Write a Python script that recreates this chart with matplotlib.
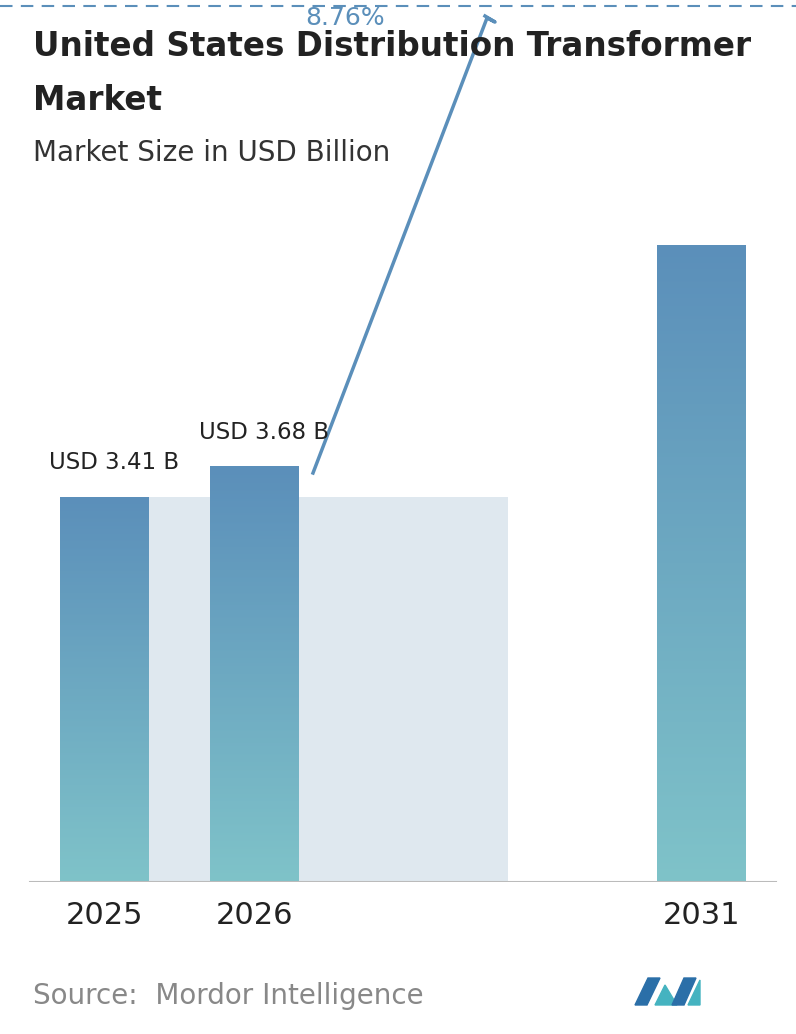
import matplotlib
matplotlib.use("Agg")
import matplotlib.pyplot as plt
import numpy as np
from matplotlib.patches import Rectangle, Polygon
from matplotlib.colors import LinearSegmentedColormap

years = ["2025", "2026", "2031"]
values = [3.41, 3.68, 5.64]
labels = ["USD 3.41 B", "USD 3.68 B", None]
cagr = "8.76%"

W, H = 796, 1034
fig = plt.figure(figsize=(W/100, H/100), dpi=100)
ov = fig.add_axes([0, 0, 1, 1])
ov.set_xlim(0, W); ov.set_ylim(H, 0); ov.axis("off")

base = 882
ppu = 113.0
ax = fig.add_axes([0, (H-base)/H, 1, base/H])
ax.set_xlim(0, W); ax.set_ylim(0, base/ppu); ax.axis("off")

centers = [104.5, 254, 701.5]
bw = 89
ax.add_patch(Rectangle((centers[0]-bw/2, 0), 508-(centers[0]-bw/2), values[0],
                       color="#dfe8ef", zorder=1, lw=0))
grad = np.linspace(0, 1, 256).reshape(-1, 1)
cmap = LinearSegmentedColormap.from_list("g", ["#7fc3c9", "#5b8fba"])
for c, v in zip(centers, values):
    r = Rectangle((c-bw/2, 0), bw, v, fc="none", lw=0, zorder=2)
    ax.add_patch(r)
    im = ax.imshow(grad, cmap=cmap, aspect="auto", origin="lower",
                   extent=(c-bw/2, c+bw/2, 0, v), zorder=2)
    im.set_clip_path(r)
ax.axhline(0, color="#bbbbbb", lw=1.5, xmin=30/W, xmax=776/W, zorder=3)
for c, v, l in zip(centers, values, labels):
    if l:
        ax.text(c+10, v+0.2, l, ha="center", va="bottom", fontsize=16.5, color="#222222")
for c, y in zip(centers, years):
    ov.text(c, 915, y, ha="center", va="center", fontsize=22, color="#222222")

ov.plot([0, W], [6, 6], ls=(0, (6, 4)), color="#5b8fba", lw=1.5)
ov.plot([313, 487, 495, 485], [473, 18, 22, 16], color="#5b8fba", lw=2.5)
ov.text(345, 18, cagr, fontsize=18, color="#5b8fba", ha="center", va="center")

ov.text(33, 47, "United States Distribution Transformer", fontsize=23.5,
        fontweight="bold", color="#222222", va="center")
ov.text(33, 100, "Market", fontsize=23.5, fontweight="bold", color="#222222", va="center")
ov.text(33, 153, "Market Size in USD Billion", fontsize=20, color="#333333", va="center")
ov.text(33, 996, "Source:  Mordor Intelligence", fontsize=20, color="#888888", va="center")

ov.add_patch(Polygon([(635, 1005), (648, 978), (660, 978), (647, 1005)], color="#2b6fa8"))
ov.add_patch(Polygon([(655, 1005), (665, 985), (677, 1005)], color="#45b3c0"))
ov.add_patch(Polygon([(672, 1005), (684, 978), (696, 978), (684, 1005)], color="#2b6fa8"))
ov.add_patch(Polygon([(688, 1005), (700, 980), (700, 1005)], color="#45b3c0"))

fig.savefig("out.png", dpi=100)
